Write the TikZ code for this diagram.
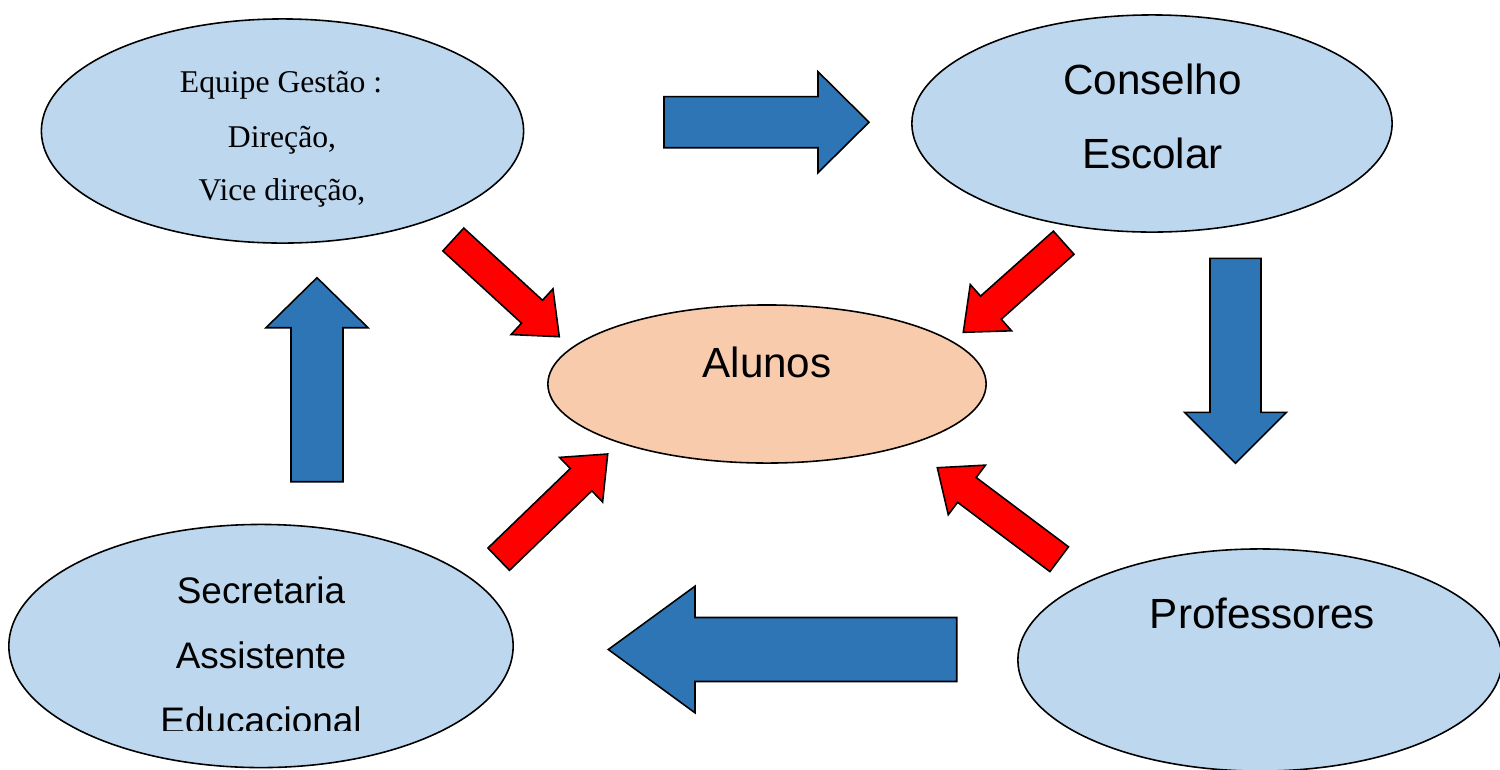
\documentclass[tikz,border=0pt]{standalone}
\usepackage{fontspec}
\setmainfont{Liberation Sans}
\newfontfamily\serifface{Liberation Serif}
\usetikzlibrary{shapes.geometric}
\definecolor{lightblue}{HTML}{BDD7EE}
\definecolor{peach}{HTML}{F8CBAD}
\definecolor{arrowblue}{HTML}{2E75B6}
\definecolor{arrowred}{HTML}{FF0000}
\tikzset{
  bubble/.style={ellipse, draw=black, line width=0.45pt, fill=lightblue, inner sep=0pt},
  centerbubble/.style={bubble, fill=peach},
  bluearrow/.style={draw=black, line width=0.45pt, fill=arrowblue, line join=miter},
  redarrow/.style={draw=black, line width=0.45pt, fill=arrowred, line join=miter},
  sanslabel/.style={anchor=base, inner sep=0pt, font=\fontsize{12}{14}\selectfont},
  smalllabel/.style={anchor=base, inner sep=0pt, font=\fontsize{10.5}{12}\selectfont},
  seriflabel/.style={anchor=base, inner sep=0pt, font=\serifface\fontsize{9}{11}\selectfont},
}
% style, tail x, tail y, tip x, tip y, half shaft, half head, head length
\newcommand{\blockarr}[8]{%
  \pgfmathsetmacro\baang{atan2(#3-#5,#4-#2)}%
  \pgfmathsetmacro\balen{veclen(#4-#2,#5-#3)}%
  \begin{scope}[shift={(#2,#3)}, rotate=\baang]
    \draw[#1] (0,-#6) -- (\balen-#8,-#6) -- (\balen-#8,-#7) -- (\balen,0)
      -- (\balen-#8,#7) -- (\balen-#8,#6) -- (0,#6) -- cycle;
  \end{scope}}
\begin{document}
\begin{tikzpicture}[x=0.01cm, y=-0.01cm]
\useasboundingbox (0,0) rectangle (1500,769);
\fill[white] (0,0) rectangle (1500,769);

% ellipses
\node[bubble, minimum width=4.82cm, minimum height=2.24cm] (gestao) at (282.5,131) {};
\node[bubble, minimum width=4.80cm, minimum height=2.17cm] (conselho) at (1152,123.5) {};
\node[centerbubble, minimum width=4.38cm, minimum height=1.58cm] (alunos) at (767,384) {};
\node[bubble, minimum width=5.04cm, minimum height=2.43cm] (secretaria) at (261,646) {};
\node[bubble, minimum width=4.84cm, minimum height=2.22cm] (professores) at (1260,660) {};

% texts
\node[seriflabel] (t1) at (281,92) {Equipe Gestão :};
\node[seriflabel] (t2) at (282,147) {Direção,};
\node[seriflabel] (t3) at (282,200) {Vice direção,};
\node[sanslabel] (t4) at (1152.5,94) {Conselho};
\node[sanslabel] (t5) at (1152.5,168) {Escolar};
\node[sanslabel] (t6) at (767,377) {Alunos};
\node[sanslabel] (t7) at (1262.5,628) {Professores};
\node[smalllabel] (t8) at (261,603) {Secretaria};
\node[smalllabel] (t9) at (261,668) {Assistente};
\begin{scope}
  \clip (0,0) rectangle (1500,730);
  \node[smalllabel] (t10) at (261,733) {Educacional};
\end{scope}

% blue arrows
\blockarr{bluearrow}{664}{122.2}{869}{122.2}{25.5}{50.5}{51}
\blockarr{bluearrow}{1235.5}{258.3}{1235.5}{463.3}{25.5}{51}{51}
\blockarr{bluearrow}{956.7}{649.5}{608.3}{649.5}{32}{63.3}{86.7}
\blockarr{bluearrow}{317}{481.7}{317}{277.7}{26}{51}{50}

% red arrows
\blockarr{redarrow}{453.3}{239.5}{559.3}{336.7}{15.5}{31}{37}
\blockarr{redarrow}{1063.7}{242.7}{963.3}{332.3}{15.5}{31}{37}
\blockarr{redarrow}{498.7}{559.2}{607.7}{454}{15.5}{31}{37}
\blockarr{redarrow}{1059.2}{559.2}{937.3}{467.7}{15.5}{31}{37}
\end{tikzpicture}
\end{document}
